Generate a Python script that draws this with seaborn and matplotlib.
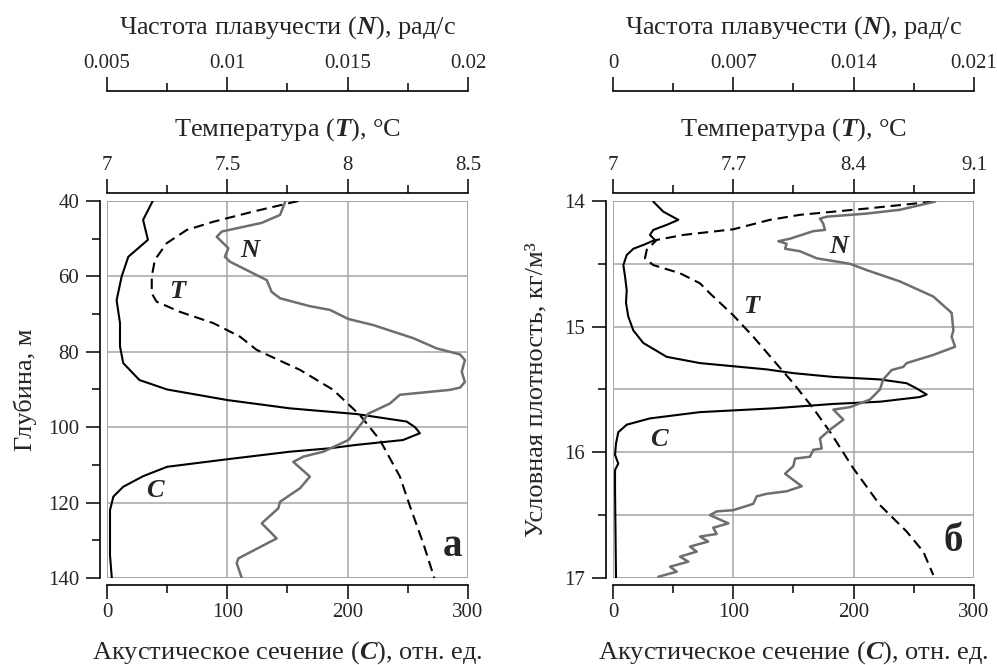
import matplotlib
matplotlib.use("Agg")
import matplotlib.pyplot as plt
from matplotlib.patches import Rectangle
from matplotlib.ticker import FixedLocator, FuncFormatter
import seaborn as sns

# ---------------- panel "а": profiles vs depth ----------------
depth_c_a = [40, 45, 50.3, 54.8, 60, 66.3, 72.4, 78.6, 83, 87.5, 90, 92.8, 95, 95.9,
             96.5, 98.5, 100, 101.6, 103.4, 104.7, 105.6, 106.5, 108.5, 110.5, 113,
             115.8, 118.4, 122, 134, 140]
c_a = [38, 30, 34, 17.7, 12.2, 8, 10.8, 10.8, 13.5, 27, 50, 100, 152, 185,
       207, 249, 256, 260, 246, 207, 185, 152, 100, 50, 30,
       13.5, 5.3, 2.5, 2.5, 4]

depth_n_a = [40.3, 43.7, 45.8, 48.1, 49.5, 52.5, 54.8, 56.1, 61.0, 64.1, 65.8, 66.5,
             67.9, 68.9, 71.3, 72.9, 76.4, 79.1, 80.7, 82.2, 85.3, 88.0, 89.5, 90.1,
             91.4, 93.7, 96.4, 99.0, 103.4, 106.5, 107.8, 109.2, 113.1, 116.2, 118.0,
             119.8, 121.5, 125.5, 129.5, 134.8, 136.1, 140.0]
n_a = [0.01240, 0.01219, 0.01143, 0.00977, 0.00956, 0.01004, 0.00990, 0.01011,
       0.01164, 0.01184, 0.01219, 0.01260, 0.01343, 0.01427, 0.01503, 0.01606,
       0.01773, 0.01870, 0.01967, 0.01987, 0.01974, 0.01987, 0.01967, 0.01925,
       0.01717, 0.01676, 0.01586, 0.01558, 0.01503, 0.01399, 0.01316, 0.01274,
       0.01343, 0.01302, 0.01260, 0.01219, 0.01212, 0.01143, 0.01205, 0.01046,
       0.01039, 0.01060]

depth_t_a = [40, 42.8, 45.5, 47.7, 51.2, 55.6, 60, 64.5, 66.7, 69.4, 72.4, 76, 79.5,
             84.8, 90.1, 96.8, 103.4, 113.1, 121, 130.8, 140]
t_a = [7.795, 7.608, 7.442, 7.331, 7.248, 7.199, 7.186, 7.186, 7.206, 7.303, 7.442,
       7.553, 7.622, 7.802, 7.940, 8.051, 8.134, 8.217, 8.259, 8.314, 8.360]

# ---------------- panel "б": profiles vs potential density ----------------
rho_c_b = [14.005, 14.085, 14.15, 14.19, 14.23, 14.27, 14.31, 14.35, 14.38, 14.43,
           14.51, 14.60, 14.71, 14.81, 14.92, 15.03, 15.13, 15.24, 15.29, 15.34,
           15.37, 15.40, 15.42, 15.45, 15.49, 15.54, 15.56, 15.597, 15.615, 15.65,
           15.68, 15.73, 15.78, 15.84, 15.93, 16.02, 16.09, 16.14, 16.3, 17.0]
c_b = [33.5, 41.8, 54.3, 44.6, 33.5, 30.7, 34.9, 25.2, 16.9, 11.4,
       8.6, 10, 11.4, 10.8, 12.7, 16.9, 25.2, 44.6, 72.3, 127.7,
       150, 183, 222, 244, 252, 260.7, 255, 222, 183, 133,
       72.3, 30.7, 11.4, 4.4, 2.5, 1.7, 4.4, 1.7, 1.7, 2.5]

rho_n_b = [14.005, 14.07, 14.10, 14.125, 14.14, 14.18, 14.23, 14.24, 14.30, 14.32,
           14.34, 14.38, 14.40, 14.456, 14.50, 14.55, 14.64, 14.76, 14.89, 15.03,
           15.08, 15.16, 15.225, 15.29, 15.32, 15.345, 15.42, 15.50, 15.58, 15.64,
           15.66, 15.74, 15.82, 15.89, 15.97, 15.98, 16.035, 16.05, 16.11, 16.17,
           16.22, 16.27, 16.31, 16.33, 16.35, 16.41, 16.46, 16.47, 16.50, 16.565,
           16.60, 16.65, 16.67, 16.71, 16.75, 16.79, 16.83, 16.87, 16.91, 16.95,
           16.99]
n_b = [0.01873, 0.01669, 0.01476, 0.01243, 0.01204, 0.01223, 0.01233, 0.01165,
       0.01030, 0.00962, 0.01010, 0.01001, 0.01088, 0.01185, 0.01379, 0.01476,
       0.01669, 0.01863, 0.01970, 0.01980, 0.01970, 0.01990, 0.01863, 0.01708,
       0.01689, 0.01621, 0.01572, 0.01553, 0.01495, 0.01379, 0.01282, 0.01340,
       0.01262, 0.01204, 0.01214, 0.01165, 0.01146, 0.01059, 0.01049, 0.01001,
       0.01049, 0.01098, 0.01010, 0.00894, 0.00836, 0.00816, 0.00700, 0.00603,
       0.00564, 0.00671, 0.00583, 0.00603, 0.00506, 0.00554, 0.00448, 0.00487,
       0.00390, 0.00438, 0.00332, 0.00371, 0.00264]

rho_t_b = [14.005, 14.06, 14.11, 14.15, 14.225, 14.27, 14.31, 14.39, 14.456, 14.51,
           14.575, 14.655, 14.735, 14.91, 15.08, 15.265, 15.45, 15.65, 15.836,
           16.127, 16.42, 16.63, 16.79, 16.976]
t_b = [8.863, 8.476, 8.088, 7.913, 7.700, 7.409, 7.254, 7.196, 7.186, 7.234,
       7.390, 7.506, 7.564, 7.700, 7.816, 7.932, 8.049, 8.165, 8.262,
       8.398, 8.553, 8.708, 8.805, 8.863]

# axis tick sets
c_ticks = [0, 100, 200, 300]
c_minor = [50, 150, 250]
t_ticks_a = [7, 7.5, 8, 8.5]
n_ticks_a = [0.005, 0.01, 0.015, 0.02]
t_ticks_b = [7, 7.7, 8.4, 9.1]
n_ticks_b = [0, 0.007, 0.014, 0.021]
y_ticks_a = [40, 60, 80, 100, 120, 140]
y_minor_a = [50, 70, 90, 110, 130]
y_ticks_b = [14, 15, 16, 17]
y_minor_b = [14.5, 15.5, 16.5]

sns.set_theme(style="white")
plt.rcParams.update({
    "font.family": ["Liberation Serif", "DejaVu Serif"],
    "mathtext.fontset": "custom",
    "mathtext.rm": "Liberation Serif",
    "mathtext.it": "Liberation Serif:italic",
    "mathtext.bf": "Liberation Serif:bold",
    "mathtext.bfit": "Liberation Serif:italic:bold",
    "axes.unicode_minus": False,
})

TICK_FS = 15
LABEL_FS = 19
TAG_FS = 19
GRID = "#a6a6a6"
N_COLOR = "#6e6e6e"
DASH = (0, (5.0, 2.8))
PX = 72 / 100  # points per pixel at 100 dpi

fmt = FuncFormatter(lambda v, p: f"{round(v, 4):g}")

fig = plt.figure(figsize=(9.97, 6.65), dpi=100)


def style_ticks(axis_obj, major, minor):
    axis_obj.set_major_locator(FixedLocator(major))
    axis_obj.set_minor_locator(FixedLocator(minor))
    axis_obj.set_major_formatter(fmt)


def top_axis(ax_x, lim, major, offset_px, label):
    ax_x.set_xlim(*lim)
    style_ticks(ax_x.xaxis, major, [(a + b) / 2 for a, b in zip(major[:-1], major[1:])])
    for s in ("bottom", "left", "right"):
        ax_x.spines[s].set_visible(False)
    ax_x.spines["top"].set_position(("outward", offset_px * PX))
    ax_x.spines["top"].set_linewidth(1.2)
    ax_x.spines["top"].set_color("black")
    ax_x.tick_params(axis="x", which="major", length=10, width=1.1, color="black",
                     labelsize=TICK_FS, pad=3, top=True)
    ax_x.tick_params(axis="x", which="minor", length=5.5, width=1.1, color="black", top=True)
    ax_x.set_xlabel(label, fontsize=LABEL_FS, labelpad=15)


def build_panel(rect, ylim, y_major, y_minor, y_grid_minor, ylabel, ylabel_pad,
                t_lim, t_major, n_lim, n_major, depth_c, cvals, depth_n, nvals,
                depth_t, tvals, tags, letter, letter_pos):
    ax = fig.add_axes(rect)
    ax_t = ax.twiny()
    ax_n = ax.twiny()

    # main axis: acoustic cross-section
    sns.lineplot(x=cvals, y=depth_c, ax=ax, color="black", lw=1.5,
                 orient="y", estimator=None, sort=False, zorder=4)
    ax.set_xlim(0, 300)
    ax.set_ylim(ylim[1], ylim[0])
    style_ticks(ax.xaxis, c_ticks, c_minor)
    style_ticks(ax.yaxis, y_major, y_minor)
    ax.xaxis.grid(True, which="major", color=GRID, lw=1.1)
    ax.yaxis.grid(True, which="both" if y_grid_minor else "major", color=GRID, lw=1.1)
    ax.set_axisbelow(True)
    for s in ("top", "right"):
        ax.spines[s].set_visible(False)
    for s in ("left", "bottom"):
        ax.spines[s].set_position(("outward", 7 * PX))
        ax.spines[s].set_color("black")
        ax.spines[s].set_linewidth(1.2)
    ax.add_patch(Rectangle((0, 0), 1, 1, transform=ax.transAxes, fill=False,
                           edgecolor=GRID, lw=1.3, zorder=1))
    ax.tick_params(which="major", length=10, width=1.1, color="black",
                   labelsize=TICK_FS, pad=5, bottom=True, left=True)
    ax.tick_params(which="minor", length=5.5, width=1.1, color="black",
                   bottom=True, left=True)
    ax.tick_params(axis="x", pad=3)
    ax.set_xlabel(r"Акустическое сечение ($\mathbfit{C}$), отн. ед.",
                  fontsize=LABEL_FS, labelpad=12)
    ax.set_ylabel(ylabel, fontsize=LABEL_FS, labelpad=ylabel_pad)

    # temperature axis
    sns.lineplot(x=tvals, y=depth_t, ax=ax_t, color="black", lw=1.5,
                 linestyle=DASH, orient="y", estimator=None, sort=False)
    top_axis(ax_t, t_lim, t_major, 8, r"Температура ($\mathbfit{T}$), °C")

    # buoyancy frequency axis
    sns.lineplot(x=nvals, y=depth_n, ax=ax_n, color=N_COLOR, lw=1.8,
                 orient="y", estimator=None, sort=False)
    top_axis(ax_n, n_lim, n_major, 110, r"Частота плавучести ($\mathbfit{N}$), рад/с")

    for ttl, (x, y) in tags.items():
        ax.text(x, y, ttl, fontsize=TAG_FS, fontweight="bold", fontstyle="italic",
                ha="center", va="center", zorder=6)
    ax.text(letter_pos[0], letter_pos[1], letter, fontsize=28, fontweight="bold",
            ha="center", va="center", zorder=6)
    return ax


build_panel([0.10732, 0.13083, 0.36209, 0.56692], (40, 140), y_ticks_a, y_minor_a, False,
            "Глубина, м", 8, (7, 8.5), t_ticks_a, (0.005, 0.02), n_ticks_a,
            depth_c_a, c_a, depth_n_a, n_a, depth_t_a, t_a,
            {"N": (118.8, 53.0), "T": (57.9, 64.1), "C": (39.9, 116.7)},
            "а", (287, 131.7))

build_panel([0.61484, 0.13083, 0.36209, 0.56692], (14, 17), y_ticks_b, y_minor_b, True,
            "Условная плотность, кг/м³", 12, (7, 9.1), t_ticks_b, (0, 0.021), n_ticks_b,
            rho_c_b, c_b, rho_n_b, n_b, rho_t_b, t_b,
            {"N": (187.2, 14.364), "T": (115.2, 14.84), "C": (38.5, 15.90)},
            "б", (282.8, 16.71))

fig.savefig("out.png", dpi=100)
